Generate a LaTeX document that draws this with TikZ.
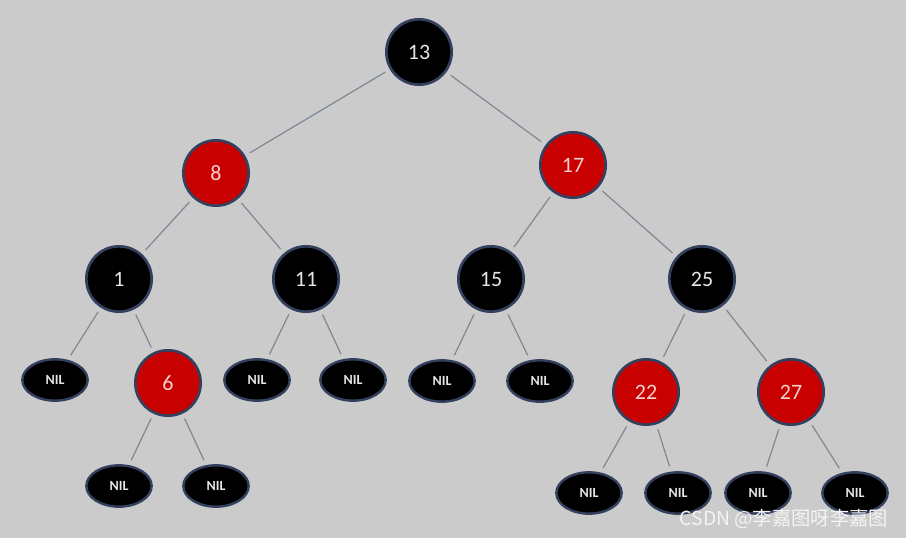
\documentclass[tikz,border=0pt]{standalone}
\usepackage{fontspec}
\setmainfont{Carlito}
\newfontfamily\cjk{Noto Sans CJK SC}
\usetikzlibrary{shapes.geometric}
\definecolor{cbg}{HTML}{CBCBCB}
\definecolor{cedge}{HTML}{7D8896}
\definecolor{crim}{HTML}{33405E}
\definecolor{cred}{HTML}{C80000}
\definecolor{credT}{HTML}{F2D2D2}
\definecolor{cblkT}{HTML}{E6E6E6}
\definecolor{cmark}{HTML}{F4F4F4}
\tikzset{
  rb/.style={circle, draw=crim, line width=2pt, minimum size=49pt,
             inner sep=0pt, font=\fontsize{16.5}{18}\selectfont},
  nblk/.style={rb, fill=black, text=cblkT},
  nred/.style={rb, fill=cred, text=credT},
  nnil/.style={ellipse, draw=crim, line width=1.8pt, fill=black, text=cblkT,
               minimum width=49pt, minimum height=31pt, inner sep=0pt,
               font=\bfseries\fontsize{10.5}{12}\selectfont},
  link/.style={draw=cedge, line width=0.9pt, shorten <=4pt, shorten >=4pt},
}
\begin{document}
\begin{tikzpicture}[x=0.75pt, y=-0.75pt]
  \fill[cbg] (0,0) rectangle (906,538);
  \useasboundingbox (0,0) rectangle (906,538);
  % inner nodes
  \node[nblk] (n13) at (419,52)  {13};
  \node[nred] (n8)  at (216,173) {8};
  \node[nred] (n17) at (573,165) {17};
  \node[nblk] (n1)  at (119,279) {1};
  \node[nblk] (n11) at (306,279) {11};
  \node[nblk] (n15) at (491,279) {15};
  \node[nblk] (n25) at (702,279) {25};
  \node[nred] (n6)  at (168,383) {6};
  \node[nred] (n22) at (646,392) {22};
  \node[nred] (n27) at (791,392) {27};
  % leaves
  \node[nnil] (l1)  at (55,380)  {NIL};
  \node[nnil] (l11a) at (257,380) {NIL};
  \node[nnil] (l11b) at (353,380) {NIL};
  \node[nnil] (l15a) at (442,381) {NIL};
  \node[nnil] (l15b) at (540,381) {NIL};
  \node[nnil] (l6a) at (119,486) {NIL};
  \node[nnil] (l6b) at (216,486) {NIL};
  \node[nnil] (l22a) at (589,493) {NIL};
  \node[nnil] (l22b) at (678,493) {NIL};
  \node[nnil] (l27a) at (758,493) {NIL};
  \node[nnil] (l27b) at (855,493) {NIL};
  % edges
  \draw[link] (n13) -- (n8);
  \draw[link] (n13) -- (n17);
  \draw[link] (n8) -- (n1);
  \draw[link] (n8) -- (n11);
  \draw[link] (n17) -- (n15);
  \draw[link] (n17) -- (n25);
  \draw[link] (n1) -- (l1);
  \draw[link] (n1) -- (n6);
  \draw[link] (n11) -- (l11a);
  \draw[link] (n11) -- (l11b);
  \draw[link] (n15) -- (l15a);
  \draw[link] (n15) -- (l15b);
  \draw[link] (n25) -- (n22);
  \draw[link] (n25) -- (n27);
  \draw[link] (n6) -- (l6a);
  \draw[link] (n6) -- (l6b);
  \draw[link] (n22) -- (l22a);
  \draw[link] (n22) -- (l22b);
  \draw[link] (n27) -- (l27a);
  \draw[link] (n27) -- (l27b);
  % watermark
  \node[text=cmark, font=\cjk\fontsize{14.5}{16}\selectfont, anchor=east] (mark)
    at (893,519) {CSDN @李嘉图呀李嘉图};
\end{tikzpicture}
\end{document}
